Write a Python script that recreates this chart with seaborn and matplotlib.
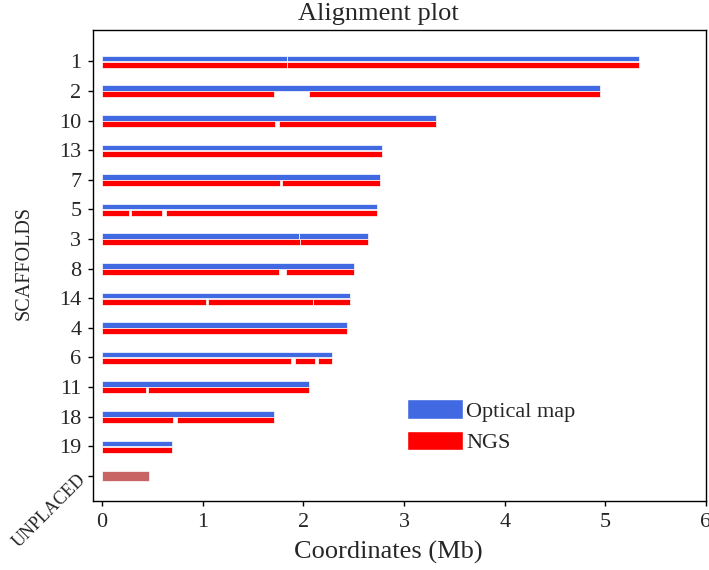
import numpy as np
import pandas as pd
import matplotlib
matplotlib.use('Agg')
import matplotlib.pyplot as plt
import seaborn as sns
from matplotlib.patches import Patch

# scaffold order, top to bottom
scaffolds = ['1', '2', '10', '13', '7', '5', '3', '8', '14', '4', '6', '11', '18', '19', 'UNPLACED']

# aligned segments (start, end) in Mb for each scaffold
optical_segments = [
    [(0, 1.84), (1.84, 5.33)],
    [(0, 4.95)],
    [(0, 3.32)],
    [(0, 2.78)],
    [(0, 2.765)],
    [(0, 2.73)],
    [(0, 1.96), (1.96, 2.64)],
    [(0, 2.50)],
    [(0, 2.46)],
    [(0, 2.43)],
    [(0, 2.28)],
    [(0, 2.06)],
    [(0, 1.71)],
    [(0, 0.69)],
]
ngs_segments = [
    [(0, 1.84), (1.84, 5.33)],
    [(0, 1.71), (2.06, 4.95)],
    [(0, 1.72), (1.76, 3.32)],
    [(0, 2.78)],
    [(0, 1.77), (1.79, 2.765)],
    [(0, 0.266), (0.29, 0.60), (0.64, 2.73)],
    [(0, 1.97), (1.97, 2.64)],
    [(0, 1.76), (1.83, 2.50)],
    [(0, 1.03), (1.05, 2.10), (2.10, 2.46)],
    [(0, 2.43)],
    [(0, 1.88), (1.92, 2.12), (2.15, 2.28)],
    [(0, 0.44), (0.46, 2.06)],
    [(0, 0.70), (0.74, 1.71)],
    [(0, 0.69)],
]
unplaced_segments = [(0, 0.47)]

sns.set_style('ticks')
plt.rcParams['font.family'] = ['Liberation Serif', 'DejaVu Serif']

blue = '#4169E1'
red = '#FF0000'
unplaced_color = '#C86464'

rows = []
for i, segs in enumerate(optical_segments):
    for s, e in segs:
        rows.append(dict(pos=i - 0.095, start=s, length=e - s, kind='Optical map', h=0.19))
for i, segs in enumerate(ngs_segments):
    for s, e in segs:
        rows.append(dict(pos=i + 0.115, start=s, length=e - s, kind='NGS', h=0.20))
for s, e in unplaced_segments:
    rows.append(dict(pos=len(scaffolds) - 1, start=s, length=e - s, kind='UNPLACED', h=0.32))
df = pd.DataFrame(rows)

colors = {'Optical map': blue, 'NGS': red, 'UNPLACED': unplaced_color}

fig = plt.figure(figsize=(7.09, 5.70), dpi=100)
ax = fig.add_axes([0.1316, 0.1216, 0.8642, 0.8258])

for kind, grp in df.groupby('kind', sort=False):
    ax.barh(grp['pos'], grp['length'], left=grp['start'], height=grp['h'],
            color=colors[kind], edgecolor='white', linewidth=0.5)

ax.set_xlim(-0.087, 6.0)
ax.set_ylim(14.84, -1.06)
ax.set_xticks(range(0, 7))
ax.set_yticks(range(len(scaffolds)))
ax.set_yticklabels(scaffolds)
ax.tick_params(axis='both', labelsize=16, length=3.6, width=1, color='black', pad=5)
labels = ax.get_yticklabels()
labels[-1].set_rotation(45)
labels[-1].set_rotation_mode('anchor')
labels[-1].set_fontsize(13)
for sp in ax.spines.values():
    sp.set_color('black')
    sp.set_linewidth(1)

ax.set_title('Alignment plot', fontsize=19, x=0.465, y=1.0, pad=7.5)
ax.set_xlabel('Coordinates (Mb)', fontsize=19)
ax.xaxis.set_label_coords(0.481, -0.085)
ax.set_ylabel('SCAFFOLDS', fontsize=14.5)
ax.yaxis.set_label_coords(-0.098, 0.505)

handles = [Patch(facecolor=blue, edgecolor='white', label='Optical map'),
           Patch(facecolor=red, edgecolor='white', label='NGS')]
ax.legend(handles=handles, loc='upper left', bbox_to_anchor=(0.512, 0.215),
          frameon=False, fontsize=16, handlelength=2.5, handleheight=0.95,
          handletextpad=0.15, labelspacing=0.4, borderpad=0, borderaxespad=0)

fig.savefig('out.png', dpi=100)
